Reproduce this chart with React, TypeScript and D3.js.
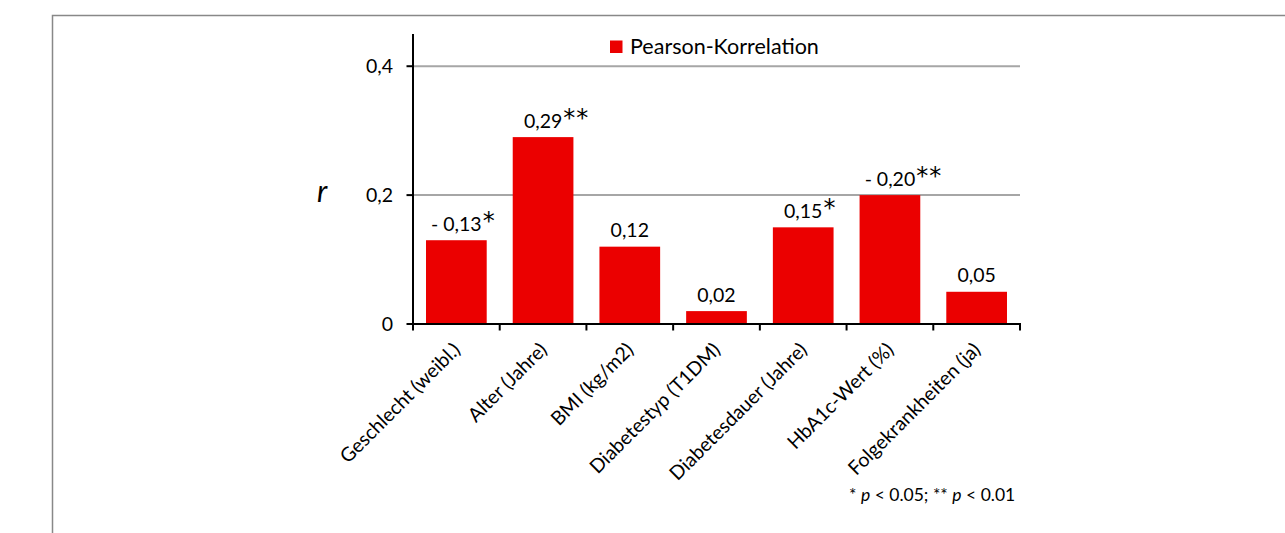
import React from "react";
import * as d3 from "d3";

const categories = [
  "Geschlecht (weibl.)",
  "Alter (Jahre)",
  "BMI (kg/m2)",
  "Diabetestyp (T1DM)",
  "Diabetesdauer (Jahre)",
  "HbA1c-Wert (%)",
  "Folgekrankheiten (ja)",
];
const values = [-0.13, 0.29, 0.12, 0.02, 0.15, -0.2, 0.05];
const stars = ["*", "**", "", "", "*", "**", ""];
const yTicks = [0, 0.2, 0.4];
const yTickLabels = ["0", "0,2", "0,4"];
const legendLabel = "Pearson-Korrelation";

const W = 1285;
const H = 533;
const FONT = "Lato, 'Open Sans', sans-serif";
const RED = "#eb0000";
const VAL_SIZE = 19.5;

let measureCtx: CanvasRenderingContext2D | null = null;
function textWidth(s: string, font: string) {
  if (!measureCtx) {
    const c = document.createElement("canvas");
    measureCtx = c.getContext("2d");
  }
  if (!measureCtx) return s.length * 10;
  measureCtx.font = font;
  return measureCtx.measureText(s).width;
}

export default function App() {
  const x = d3
    .scaleBand<string>()
    .domain(categories)
    .range([413, 1020])
    .paddingInner(0.3)
    .paddingOuter(0.15);
  const y = d3.scaleLinear().domain([0, 0.45]).range([324, 34]);
  const step = x.step();
  const x0 = 413;
  const boundaries = d3.range(categories.length + 1).map((i) => x0 + i * step);
  const fmt = (v: number) => {
    const s = Math.abs(v).toFixed(2).replace(".", ",");
    return v < 0 ? "- " + s : s;
  };

  return (
    <svg
      width={W}
      height={H}
      style={{ position: "absolute", left: 0, top: 0, background: "#fff" }}
      fontFamily={FONT}
    >
      <rect x={52.5} y={15.5} width={1400} height={700} fill="none" stroke="#888" strokeWidth={1.5} />

      {/* gridlines */}
      {yTicks
        .filter((t) => t > 0)
        .map((t) => (
          <line key={t} x1={413} x2={1020} y1={y(t)} y2={y(t)} stroke="#a6a6a6" strokeWidth={2} />
        ))}

      {/* bars */}
      {categories.map((c, i) => (
        <rect
          key={c}
          x={x(c)}
          y={y(Math.abs(values[i]))}
          width={x.bandwidth()}
          height={y(0) - y(Math.abs(values[i]))}
          fill={RED}
        />
      ))}

      {/* value labels */}
      {categories.map((c, i) => {
        const cx = (x(c) as number) + x.bandwidth() / 2;
        const by = y(Math.abs(values[i])) - 9.5;
        const label = fmt(values[i]);
        const w = textWidth(label, `${VAL_SIZE}px Lato`);
        return (
          <g key={c}>
            <text x={cx} y={by} textAnchor="middle" fontSize={VAL_SIZE} fill="#000">
              {label}
            </text>
            {stars[i] ? (
              <text
                x={cx + w / 2 + 1}
                y={by - 2}
                fontFamily="'DejaVu Sans', sans-serif"
                fontSize={24}
                letterSpacing={1}
                fill="#000"
              >
                {stars[i]}
              </text>
            ) : null}
          </g>
        );
      })}

      {/* y axis */}
      <line x1={413} x2={413} y1={34} y2={325} stroke="#000" strokeWidth={2} />
      {yTicks.map((t, i) => (
        <g key={t}>
          <line x1={406.5} x2={413} y1={y(t)} y2={y(t)} stroke="#000" strokeWidth={2} />
          <text x={393} y={y(t) + 7} textAnchor="end" fontSize={19.5} fill="#000">
            {yTickLabels[i]}
          </text>
        </g>
      ))}
      <text x={317} y={201.5} fontSize={30} fontStyle="italic" fill="#000">
        r
      </text>

      {/* x axis */}
      <line x1={412} x2={1021} y1={324} y2={324} stroke="#000" strokeWidth={2} />
      {boundaries.map((b, i) => (
        <line key={i} x1={b} x2={b} y1={324} y2={330.5} stroke="#000" strokeWidth={2} />
      ))}
      {categories.map((c) => {
        const cx = (x(c) as number) + x.bandwidth() / 2 + 5;
        const cy = 351;
        return (
          <text
            key={c}
            transform={`translate(${cx},${cy}) rotate(-45)`}
            textAnchor="end"
            fontSize={19.5}
            fill="#000"
          >
            {c}
          </text>
        );
      })}

      {/* legend */}
      <rect x={610} y={40.5} width={12.5} height={12.5} fill={RED} />
      <text x={630} y={54} fontSize={21.5} fill="#000">
        {legendLabel}
      </text>

      {/* note */}
      <text x={849} y={501} fontSize={17.5} fill="#000">
        {"* "}
        <tspan fontStyle="italic">p</tspan>
        {" < 0.05; ** "}
        <tspan fontStyle="italic">p</tspan>
        {" < 0.01"}
      </text>
    </svg>
  );
}
